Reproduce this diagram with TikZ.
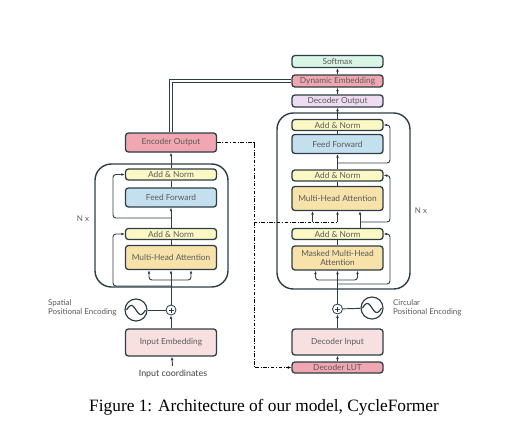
\documentclass[tikz,border=0pt]{standalone}
\usepackage{fontspec}
\setmainfont{Liberation Serif}
\newfontfamily\boxfont{Lato}
\usetikzlibrary{arrows.meta,calc}

\definecolor{edge}{HTML}{2E3D45}
\definecolor{txt}{HTML}{5A5A5A}
\definecolor{outred}{HTML}{F1A7B1}
\definecolor{pinkbg}{HTML}{F8E0E0}
\definecolor{normyel}{HTML}{FBF8C4}
\definecolor{ffblue}{HTML}{C4E0EF}
\definecolor{attnyel}{HTML}{F7E2AA}
\definecolor{mint}{HTML}{D9F5E6}
\definecolor{lilac}{HTML}{EEDDF2}

\tikzset{
  blk/.style={draw=edge, line width=1.1pt, rounded corners=2.5pt, inner sep=0pt,
    minimum width=91*0.03cm, text=txt, font=\boxfont\fontsize{7.1}{8}\selectfont, align=center},
  addnorm/.style={blk, fill=normyel, minimum height=11*0.03cm},
  feedfwd/.style={blk, fill=ffblue, minimum height=19*0.03cm},
  attn/.style={blk, fill=attnyel, minimum height=24*0.03cm},
  stack/.style={draw=edge, line width=1.2pt, rounded corners=14pt},
  arr/.style={-{Latex[length=3pt,width=2.4pt]}},
  wire/.style={draw=edge, line width=0.8pt, rounded corners=2.5pt},
  dashdot/.style={line width=0.7pt, dash pattern=on 3pt off 1.5pt on 0.6pt off 1.5pt},
  label/.style={text=txt, font=\boxfont\fontsize{6.8}{8}\selectfont, align=left},
  plus/.style={circle, draw=edge, line width=0.7pt, fill=white, minimum size=10*0.03cm, inner sep=0pt},
  wave/.style={circle, draw=edge, line width=1pt, minimum size=22*0.03cm, inner sep=0pt}
}

\begin{document}
\begin{tikzpicture}[x=0.03cm, y=-0.03cm]
	\useasboundingbox (0,0) rectangle (530,442);

	% encoder
	\draw[stack] (95,164) rectangle (228,287);
	\node[blk, fill=outred, minimum height=19*0.03cm] (encout) at (171,142.5) {Encoder Output};
	\node[addnorm] (encan1) at (171,174.5) {Add \& Norm};
	\node[feedfwd] (encff) at (171,197.5) {Feed Forward};
	\node[addnorm] (encan2) at (171,234) {Add \& Norm};
	\node[attn] (encmha) at (171,257.5) {Multi-Head Attention};
	\node[plus] (encplus) at (171,310) {};
	\node[wave] (encsin) at (136,310) {};
	\node[blk, fill=pinkbg, minimum height=27*0.03cm] (encemb) at (171,342.5) {Input Embedding};
	\node[text=black!75, font=\boxfont\fontsize{7.6}{9}\selectfont] (incoord) at (173,374) {Input coordinates};
	\node[label] (encn) at (83,219) {N x};
	\node[label, anchor=west] (spatial) at (44,308) {Spatial\\Positional Encoding};

	% decoder
	\draw[stack] (277,113) rectangle (410,289);
	\node[blk, fill=mint, minimum height=12*0.03cm] (softmax) at (337.5,61.5) {Softmax};
	\node[blk, fill=outred, minimum height=12*0.03cm] (dynemb) at (337.5,81) {Dynamic Embedding};
	\node[blk, fill=lilac, minimum height=12*0.03cm] (decout) at (337.5,101) {Decoder Output};
	\node[addnorm] (decan1) at (337.5,125) {Add \& Norm};
	\node[feedfwd] (decff) at (337.5,144) {Feed Forward};
	\node[addnorm] (decan2) at (337.5,175.5) {Add \& Norm};
	\node[attn] (decmha) at (337.5,198.5) {Multi-Head Attention};
	\node[addnorm] (decan3) at (337.5,234) {Add \& Norm};
	\node[attn] (decmmha) at (337.5,258) {Masked Multi-Head\\Attention};
	\node[plus] (decplus) at (337.5,309) {};
	\node[wave] (decsin) at (372,308) {};
	\node[blk, fill=pinkbg, minimum height=26*0.03cm] (decin) at (337.5,342) {Decoder Input};
	\node[blk, fill=outred, minimum height=11*0.03cm] (declut) at (337.5,367.5) {Decoder LUT};
	\node[label] (decn) at (421,211) {N x};
	\node[label, anchor=west] (circular) at (389,308) {Circular\\Positional Encoding};

	% plus signs and waves
	\foreach \p in {encplus,decplus} {
		\draw[edge, line width=0.6pt] ($(\p)+(-2.5,0)$) -- ($(\p)+(2.5,0)$);
		\draw[edge, line width=0.6pt] ($(\p)+(0,-2.5)$) -- ($(\p)+(0,2.5)$);
	}
	\foreach \s in {encsin,decsin}
		\draw[edge, line width=1pt, shift={(\s.center)}] plot[domain=-1:1, samples=40, smooth] ({\x*9.5},{4.5*sin(\x*180)});

	% encoder wires
	\coordinate (encfork) at (171,280);
	\draw[wire, arr] (incoord) -- (encemb);
	\draw[wire, arr] (encemb) -- (encplus);
	\draw[wire] (encsin) -- (encplus);
	\draw[wire] (encplus) -- (encfork);
	\draw[wire, arr] (encfork) -- (encmha);
	\draw[wire, arr] (encfork) -| ($(encmha.south)+(-22,0)$);
	\draw[wire, arr] (encfork) -| ($(encmha.south)+(20,0)$);
	\draw[wire, arr] (171,286) -- (113,286) |- (encan2.west);
	\draw[wire] (encmha) -- (encan2);
	\draw[wire, arr] (encan2) -- (encff);
	\draw[wire, arr] (171,218) -- (113,218) |- (encan1.west);
	\draw[wire] (encff) -- (encan1);
	\draw[wire, arr] (encan1) -- (encout);

	% decoder wires
	\coordinate (decfork) at (337.5,280);
	\coordinate (query) at (360,222);
	\draw[wire, arr] (declut) -- (decin);
	\draw[wire, arr] (decin) -- (decplus);
	\draw[wire] (decsin) -- (decplus);
	\draw[wire] (decplus) -- (decfork);
	\draw[wire, arr] (decfork) -- (decmmha);
	\draw[wire, arr] (decfork) -| ($(decmmha.south)+(-22,0)$);
	\draw[wire, arr] (decfork) -| ($(decmmha.south)+(20,0)$);
	\draw[wire, arr] (337.5,284) -- (390,284) |- (decan3.east);
	\draw[wire] (decmmha) -- (decan3);
	\draw[wire, arr] (decan3.north -| query) -- (decmha.south -| query);
	\draw[wire, arr] (query) -- (390,222) |- (decan2.east);
	\draw[wire] (decmha) -- (decan2);
	\draw[wire, arr] (decan2) -- (decff);
	\draw[wire, arr] (337.5,163) -- (390,163) |- (decan1.east);
	\draw[wire] (decff) -- (decan1);
	\draw[wire, arr] (decan1) -- (decout);
	\draw[wire, arr] (decout) -- (dynemb);
	\draw[wire, arr] (dynemb) -- (softmax);

	% encoder to decoder
	\coordinate (kv) at (254,222);
	\draw[dashdot] (encout.east) -| (kv) -- (337.5,222);
	\draw[dashdot, arr] (kv) |- (declut.west);
	\draw[wire, arr] (312.5,222) -- (decmha.south -| 312.5,0);
	\draw[wire, arr] (337.5,222) -- (decmha.south);
	\draw[edge, double=white, line width=0.7pt, double distance=1.4pt] (encout.north) |- (dynemb.west);

	% caption
	\node[font=\fontsize{14.8}{17}\selectfont] (caption) at (264,407) {Figure 1: Architecture of our model, CycleFormer};
\end{tikzpicture}
\end{document}
